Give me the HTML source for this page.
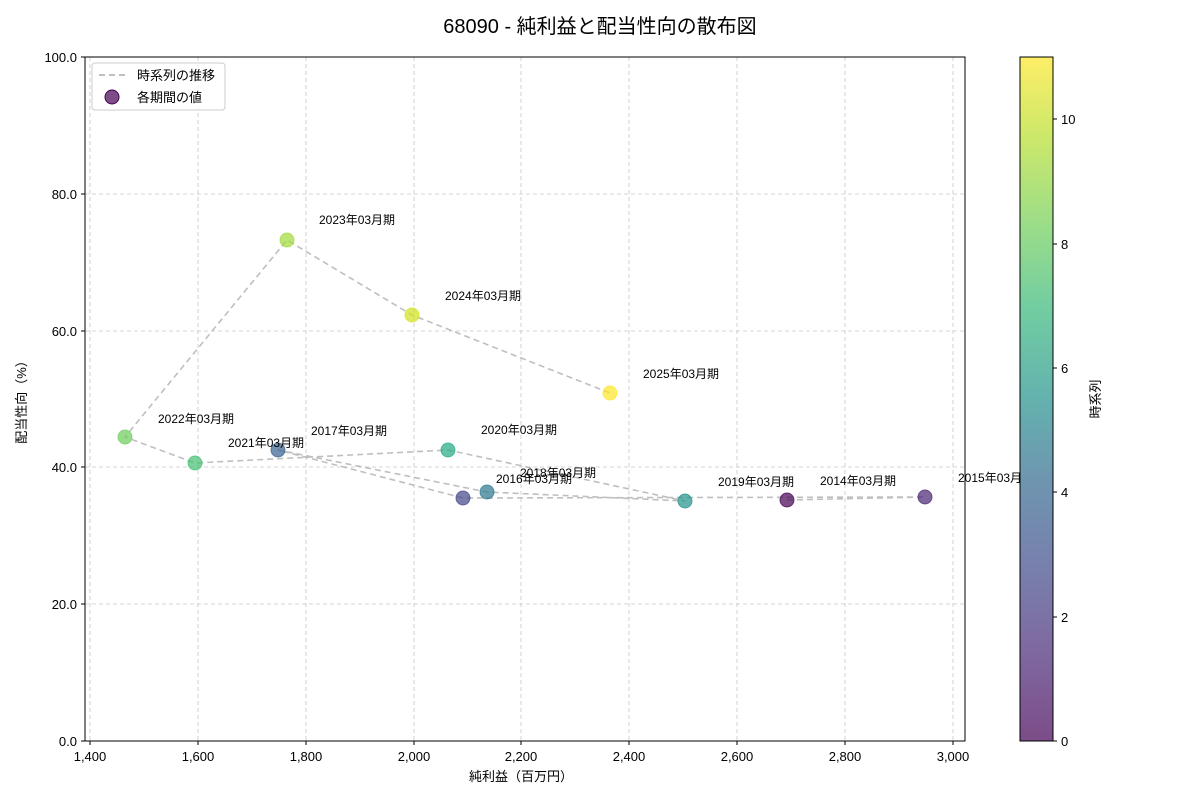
<!DOCTYPE html>
<html><head><meta charset="utf-8"><style>body{margin:0;background:#fff}svg text{font-family:"Liberation Sans","Noto Sans CJK JP",sans-serif}</style></head><body>
<svg width="1200" height="800" xmlns="http://www.w3.org/2000/svg">
<defs><linearGradient id="vg" x1="0" y1="1" x2="0" y2="0">
<stop offset="0" stop-color="#440154"/><stop offset="0.13" stop-color="#482878"/><stop offset="0.25" stop-color="#3e4989"/><stop offset="0.38" stop-color="#31688e"/><stop offset="0.5" stop-color="#21918c"/><stop offset="0.63" stop-color="#35b779"/><stop offset="0.75" stop-color="#6ece58"/><stop offset="0.88" stop-color="#b5de2b"/><stop offset="1" stop-color="#fde725"/></linearGradient></defs>
<rect width="1200" height="800" fill="#fff"/>
<text x="600" y="33" font-size="20" text-anchor="middle">68090 - 純利益と配当性向の散布図</text>
<g stroke="#c8c8c8" stroke-dasharray="4,3" stroke-width="0.8">
<line x1="90" y1="57" x2="90" y2="741"/><line x1="198" y1="57" x2="198" y2="741"/><line x1="306" y1="57" x2="306" y2="741"/><line x1="414" y1="57" x2="414" y2="741"/><line x1="521" y1="57" x2="521" y2="741"/><line x1="629" y1="57" x2="629" y2="741"/><line x1="737" y1="57" x2="737" y2="741"/><line x1="845" y1="57" x2="845" y2="741"/><line x1="953" y1="57" x2="953" y2="741"/>
<line x1="85" y1="604" x2="965" y2="604"/><line x1="85" y1="467" x2="965" y2="467"/><line x1="85" y1="331" x2="965" y2="331"/><line x1="85" y1="194" x2="965" y2="194"/>
</g>
<polyline fill="none" stroke="#aaa" stroke-opacity="0.75" stroke-width="1.6" stroke-dasharray="6,4" points="787,500 925,497 463,498 278,450 487,492 685,501 448,450 195,463 125,437 287,240 412,315 610,393"/>
<g fill-opacity="0.7" stroke-opacity="0.7" stroke-width="1">
<circle cx="787" cy="500" r="7" fill="#440154" stroke="#440154"/>
<circle cx="925" cy="497" r="7" fill="#482475" stroke="#482475"/>
<circle cx="463" cy="498" r="7" fill="#414487" stroke="#414487"/>
<circle cx="278" cy="450" r="7" fill="#355f8d" stroke="#355f8d"/>
<circle cx="487" cy="492" r="7" fill="#2a788e" stroke="#2a788e"/>
<circle cx="685" cy="501" r="7" fill="#21918c" stroke="#21918c"/>
<circle cx="448" cy="450" r="7" fill="#22a884" stroke="#22a884"/>
<circle cx="195" cy="463" r="7" fill="#44bf70" stroke="#44bf70"/>
<circle cx="125" cy="437" r="7" fill="#6ccd5a" stroke="#6ccd5a"/>
<circle cx="287" cy="240" r="7" fill="#a0da39" stroke="#a0da39"/>
<circle cx="412" cy="315" r="7" fill="#d2e21b" stroke="#d2e21b"/>
<circle cx="610" cy="393" r="7" fill="#fde725" stroke="#fde725"/>
</g>
<g font-size="12">
<text x="820" y="485">2014年03月期</text><text x="958" y="482">2015年03月期</text><text x="496" y="483">2016年03月期</text><text x="311" y="435">2017年03月期</text><text x="520" y="477">2018年03月期</text><text x="718" y="486">2019年03月期</text><text x="481" y="434">2020年03月期</text><text x="228" y="447">2021年03月期</text><text x="158" y="423">2022年03月期</text><text x="319" y="224">2023年03月期</text><text x="445" y="300">2024年03月期</text><text x="643" y="378">2025年03月期</text>
</g>
<rect x="85" y="57" width="880" height="684" fill="none" stroke="#000" stroke-width="1"/>
<g font-size="13" text-anchor="middle">
<text x="90" y="761">1,400</text><text x="198" y="761">1,600</text><text x="306" y="761">1,800</text><text x="414" y="761">2,000</text><text x="521" y="761">2,200</text><text x="629" y="761">2,400</text><text x="737" y="761">2,600</text><text x="845" y="761">2,800</text><text x="953" y="761">3,000</text>
</g>
<g stroke="#000"><line x1="90" y1="741" x2="90" y2="745"/><line x1="198" y1="741" x2="198" y2="745"/><line x1="306" y1="741" x2="306" y2="745"/><line x1="414" y1="741" x2="414" y2="745"/><line x1="521" y1="741" x2="521" y2="745"/><line x1="629" y1="741" x2="629" y2="745"/><line x1="737" y1="741" x2="737" y2="745"/><line x1="845" y1="741" x2="845" y2="745"/><line x1="953" y1="741" x2="953" y2="745"/>
<line x1="81" y1="741" x2="85" y2="741"/><line x1="81" y1="604" x2="85" y2="604"/><line x1="81" y1="467" x2="85" y2="467"/><line x1="81" y1="331" x2="85" y2="331"/><line x1="81" y1="194" x2="85" y2="194"/><line x1="81" y1="57" x2="85" y2="57"/></g>
<g font-size="13" text-anchor="end">
<text x="77" y="746">0.0</text><text x="77" y="609">20.0</text><text x="77" y="472">40.0</text><text x="77" y="336">60.0</text><text x="77" y="199">80.0</text><text x="77" y="62">100.0</text>
</g>
<text x="521" y="781" font-size="13" text-anchor="middle">純利益（百万円）</text>
<text transform="translate(26,399) rotate(-90)" font-size="13" text-anchor="middle">配当性向（%）</text>
<rect x="92" y="63" width="133" height="47" rx="3" fill="#fff" fill-opacity="0.8" stroke="#ccc"/>
<line x1="99" y1="75" x2="127" y2="75" stroke="#aaa" stroke-width="1.6" stroke-dasharray="6,4"/>
<text x="137" y="80" font-size="13">時系列の推移</text>
<circle cx="112" cy="97" r="7" fill="#440154" fill-opacity="0.7" stroke="#440154"/>
<text x="137" y="102" font-size="13">各期間の値</text>
<rect x="1020" y="57" width="33" height="684" fill="#fff"/>
<rect x="1020" y="57" width="33" height="684" fill="url(#vg)" fill-opacity="0.7" stroke="#000" stroke-width="1"/>
<g stroke="#000"><line x1="1053" y1="741" x2="1057" y2="741"/><line x1="1053" y1="617" x2="1057" y2="617"/><line x1="1053" y1="492" x2="1057" y2="492"/><line x1="1053" y1="368" x2="1057" y2="368"/><line x1="1053" y1="244" x2="1057" y2="244"/><line x1="1053" y1="119" x2="1057" y2="119"/></g>
<g font-size="13"><text x="1061" y="746">0</text><text x="1061" y="622">2</text><text x="1061" y="497">4</text><text x="1061" y="373">6</text><text x="1061" y="249">8</text><text x="1061" y="124">10</text></g>
<text transform="translate(1100,399) rotate(-90)" font-size="13" text-anchor="middle">時系列</text>
</svg>
</body></html>
